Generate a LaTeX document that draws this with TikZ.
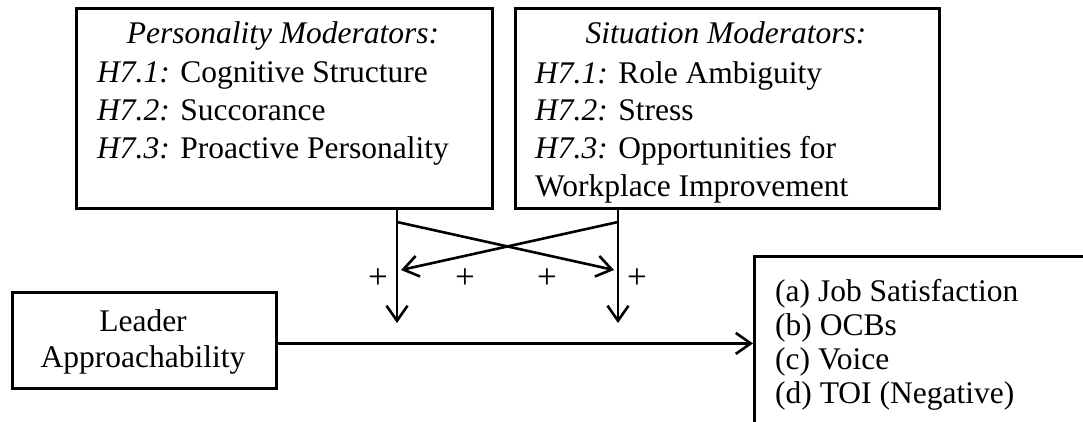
\documentclass[tikz,border=0pt]{standalone}
\usepackage{fontspec}
\setmainfont{Liberation Serif}
\usetikzlibrary{arrows.meta}
\newcommand{\hyp}[1]{{\itshape #1}}
\begin{document}
\begin{tikzpicture}[x=1pt,y=-1pt,
  box/.style={draw,line width=2.8pt,inner sep=0pt,anchor=north west},
  txt/.style={font=\fontsize{31.5}{37.7}\selectfont,inner sep=0pt},
  link/.style={line width=2.6pt},
  arr/.style={link,-{Straight Barb[length=15pt,width=21pt]}},
  sign/.style={font=\fontsize{35}{40}\selectfont,inner sep=0pt}]
\useasboundingbox (0,0) rectangle (1083,422);
\clip (0,0) rectangle (1083,422);

% moderator boxes (multi-line texts are anchored at the baseline of their last line)
\node[box,minimum width=416pt,minimum height=200pt] (pm) at (75,7) {};
\node[txt,anchor=base] (pmt) at (283,44) {\hyp{Personality Moderators:}};
\node[txt,anchor=base west,align=left] (pmb) at (97,158.4)
  {\hyp{H7.1:} Cognitive Structure\\ \hyp{H7.2:} Succorance\\ \hyp{H7.3:} Proactive Personality};

\node[box,minimum width=424pt,minimum height=200pt] (sm) at (514,7) {};
\node[txt,anchor=base] (smt) at (726,44) {\hyp{Situation Moderators:}};
\node[txt,anchor=base west,align=left] (smb) at (535,196.1)
  {\hyp{H7.1:} Role Ambiguity\\ \hyp{H7.2:} Stress\\ \hyp{H7.3:} Opportunities for\\ Workplace Improvement};

% predictor
\node[box,minimum width=264pt,minimum height=96pt] (la) at (11,291) {};
\node[txt,anchor=base,align=center,font=\fontsize{31.5}{36}\selectfont] (lat) at (143,367)
  {Leader\\Approachability};

% outcomes
\node[box,minimum width=400pt,minimum height=250pt] (out) at (753,255) {};
\node[txt,anchor=base west,align=left,font=\fontsize{31.5}{33.7}\selectfont] (outt) at (775,403)
  {(a) Job Satisfaction\\(b) OCBs\\(c) Voice\\(d) TOI (Negative)};

% moderation paths
\coordinate (pl) at (397,323);
\coordinate (sl) at (618,323);
\coordinate (xa) at (397,222);
\coordinate (xb) at (614,270);
\coordinate (ya) at (618,222);
\coordinate (yb) at (401,270);
\draw[arr] (pm.south -| pl) -- (pl);
\draw[arr] (sm.south -| sl) -- (sl);
\draw[arr] (xa) -- (xb);
\draw[arr] (ya) -- (yb);

% main effect
\draw[arr] ([yshift=-3pt]la.east) -- ([yshift=-3pt]la.east -| out.west);

% signs
\node[sign] (s1) at (378,279) {+};
\node[sign] (s2) at (465,279) {+};
\node[sign] (s3) at (547,279) {+};
\node[sign] (s4) at (637,279) {+};
\end{tikzpicture}
\end{document}
